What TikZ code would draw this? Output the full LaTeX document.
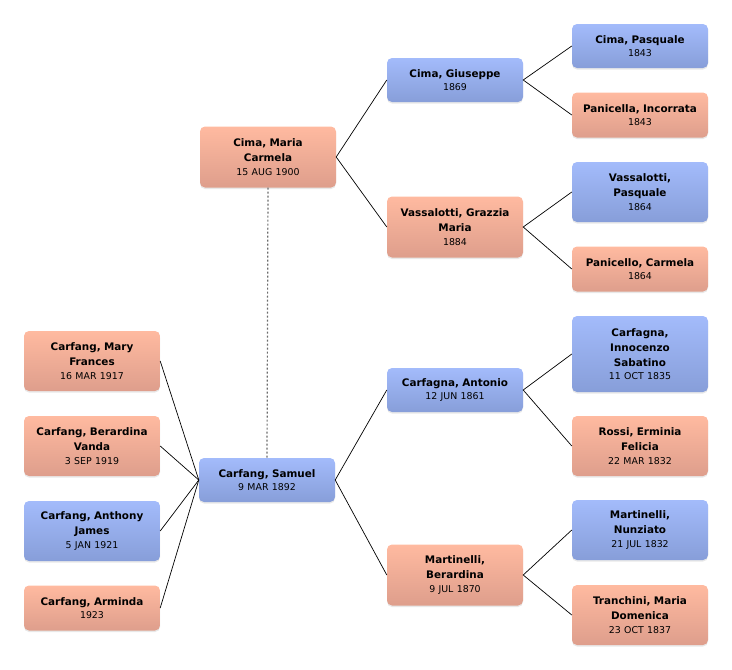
\documentclass[tikz,border=0pt]{standalone}
\usepackage{fontspec}
\setmainfont{DejaVu Sans}
\usetikzlibrary{shadows}
\definecolor{blueT}{HTML}{A3BBFB}
\definecolor{blueB}{HTML}{879ED9}
\definecolor{pinkT}{HTML}{FFBAA0}
\definecolor{pinkB}{HTML}{DE9E8C}
\newcommand\pp[2]{{\bfseries\fontsize{10.4}{15}\selectfont #1\par}{\fontsize{9.4}{13.5}\selectfont #2\par}}
\tikzset{
  person/.style={rounded corners=5pt, minimum width=136pt, text width=132pt, align=center,
    inner sep=2pt, drop shadow={opacity=0.18, shadow xshift=0pt, shadow yshift=-1.5pt}},
  male/.style={person, top color=blueT, bottom color=blueB},
  female/.style={person, top color=pinkT, bottom color=pinkB},
  link/.style={draw=black, line width=0.7pt},
  marriage/.style={draw=gray!85!black, line width=1.2pt, dash pattern=on 2pt off 2pt}
}
\begin{document}
\begin{tikzpicture}[x=1pt,y=-1pt]
\useasboundingbox (0,0) rectangle (732,670);
% generation 1
\node[female, minimum height=61pt] (mc) at (268,157) {\pp{Cima, Maria\\Carmela}{15 AUG 1900}};
\node[male, minimum height=44pt] (sam) at (267,480) {\pp{Carfang, Samuel}{9 MAR 1892}};
% children
\node[female, minimum height=60pt] (c1) at (92,361) {\pp{Carfang, Mary\\Frances}{16 MAR 1917}};
\node[female, minimum height=60pt] (c2) at (92,446) {\pp{Carfang, Berardina\\Vanda}{3 SEP 1919}};
\node[male, minimum height=60pt] (c3) at (92,531) {\pp{Carfang, Anthony\\James}{5 JAN 1921}};
\node[female, minimum height=45pt] (c4) at (92,608) {\pp{Carfang, Arminda}{1923}};
% generation 2
\node[male, minimum height=44pt] (gi) at (455,80) {\pp{Cima, Giuseppe}{1869}};
\node[female, minimum height=61pt] (gr) at (455,227) {\pp{Vassalotti, Grazzia\\Maria}{1884}};
\node[male, minimum height=44pt] (an) at (455,390) {\pp{Carfagna, Antonio}{12 JUN 1861}};
\node[female, minimum height=61pt] (be) at (455,575) {\pp{Martinelli,\\Berardina}{9 JUL 1870}};
% generation 3
\node[male, minimum height=44pt] (p1) at (640,46) {\pp{Cima, Pasquale}{1843}};
\node[female, minimum height=45pt] (p2) at (640,115) {\pp{Panicella, Incorrata}{1843}};
\node[male, minimum height=60pt] (p3) at (640,192) {\pp{Vassalotti,\\Pasquale}{1864}};
\node[female, minimum height=45pt] (p4) at (640,269) {\pp{Panicello, Carmela}{1864}};
\node[male, minimum height=76pt] (p5) at (640,354) {\pp{Carfagna,\\Innocenzo\\Sabatino}{11 OCT 1835}};
\node[female, minimum height=60pt] (p6) at (640,446) {\pp{Rossi, Erminia\\Felicia}{22 MAR 1832}};
\node[male, minimum height=60pt] (p7) at (640,530) {\pp{Martinelli,\\Nunziato}{21 JUL 1832}};
\node[female, minimum height=60pt] (p8) at (640,615) {\pp{Tranchini, Maria\\Domenica}{23 OCT 1837}};
% connectors
\draw[marriage] (mc.south) -- (sam.north);
\foreach \c in {c1,c2,c3,c4} \draw[link] (\c.east) -- (sam.west);
\draw[link] (gi.west) -- (mc.east) -- (gr.west);
\draw[link] (an.west) -- (sam.east) -- (be.west);
\draw[link] (p1.west) -- (gi.east) -- (p2.west);
\draw[link] (p3.west) -- (gr.east) -- (p4.west);
\draw[link] (p5.west) -- (an.east) -- (p6.west);
\draw[link] (p7.west) -- (be.east) -- (p8.west);
\end{tikzpicture}
\end{document}
